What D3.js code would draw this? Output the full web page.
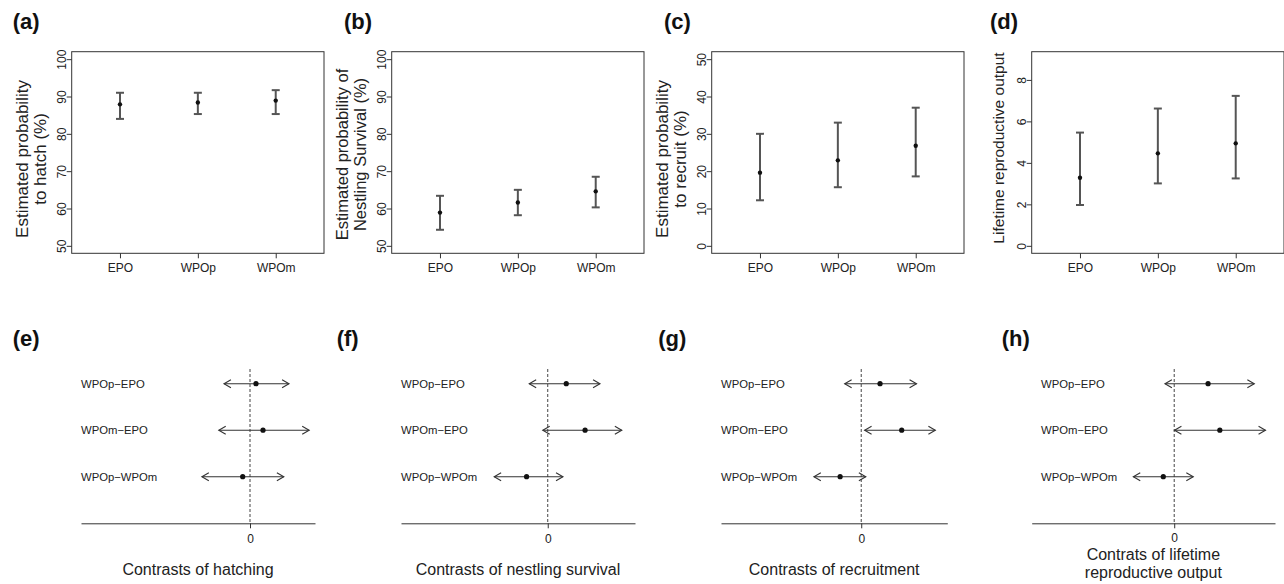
<!DOCTYPE html>
<html>
<head>
<meta charset="utf-8">
<script src="https://cdn.jsdelivr.net/npm/d3@7"></script>
<style>
  html, body { margin: 0; padding: 0; background: #fff; }
  svg { display: block; font-family: "Liberation Sans", Arial, Helvetica, sans-serif; }
</style>
</head>
<body>
<svg id="chart" width="1284" height="584"></svg>
<script>
// ---------- Data ----------
const groups = ["EPO", "WPOp", "WPOm"];

const hatchMean = [87.9, 88.4, 88.9];
const hatchLow  = [84.0, 85.3, 85.3];
const hatchHigh = [91.0, 91.0, 91.7];

const survMean = [58.9, 61.6, 64.6];
const survLow  = [54.3, 58.2, 60.3];
const survHigh = [63.4, 65.0, 68.5];

const recMean = [19.6, 22.9, 26.8];
const recLow  = [12.2, 15.7, 18.6];
const recHigh = [30.0, 33.0, 37.0];

const lroMean = [3.28, 4.46, 4.94];
const lroLow  = [1.97, 3.01, 3.25];
const lroHigh = [5.46, 6.62, 7.23];

const pctTicks = [50, 60, 70, 80, 90, 100];
const recTicks = [0, 10, 20, 30, 40, 50];
const lroTicks = [0, 2, 4, 6, 8];

const contrastNames = ["WPOp\u2212EPO", "WPOm\u2212EPO", "WPOp\u2212WPOm"];

const hatchConEst  = [0.46, 1.0, -0.56];
const hatchConLow  = [-2.0, -2.4, -3.7];
const hatchConHigh = [3.0, 4.55, 2.6];

const survConEst  = [2.8, 5.65, -3.2];
const survConLow  = [-2.8, -0.75, -8.1];
const survConHigh = [7.9, 11.2, 2.3];

const recConEst  = [3.3, 7.1, -3.7];
const recConLow  = [-2.9, 0.6, -8.3];
const recConHigh = [9.7, 13.0, 0.8];

const lroConEst  = [1.21, 1.63, -0.39];
const lroConLow  = [-0.33, 0.01, -1.46];
const lroConHigh = [2.86, 3.26, 0.68];

const contrastTicks = [0];

// ---------- Layout ----------
const svg = d3.select("#chart");
const INK = "#222";

const topPanels = [
  { tag: "(a)", tagX: 12.7, left: 71.7, mean: hatchMean, low: hatchLow, high: hatchHigh,
    yDomain: [48, 102], ticks: pctTicks, title: ["Estimated probability", "to hatch (%)"], titleY: 159, titleSize: 17 },
  { tag: "(b)", tagX: 344, left: 391.7, mean: survMean, low: survLow, high: survHigh,
    yDomain: [48, 102], ticks: pctTicks, title: ["Estimated probability of", "Nestling Survival (%)"], titleY: 154.5, titleSize: 16.5 },
  { tag: "(c)", tagX: 664, left: 711.7, mean: recMean, low: recLow, high: recHigh,
    yDomain: [-2, 52], ticks: recTicks, title: ["Estimated probability", "to recruit (%)"], titleY: 159, titleSize: 17 },
  { tag: "(d)", tagX: 990, left: 1031.7, mean: lroMean, low: lroLow, high: lroHigh,
    yDomain: [-0.36, 9.36], ticks: lroTicks, title: ["Lifetime reproductive output"], titleY: 148, titleSize: 15.5 }
];

const boxTop = 51.7, boxBottom = 253.3, boxW = 252.3;

topPanels.forEach(p => {
  const g = svg.append("g");
  const x = d3.scaleLinear().domain([0.38, 3.62]).range([p.left, p.left + boxW]);
  const y = d3.scaleLinear().domain(p.yDomain).range([boxBottom, boxTop]);

  // panel tag
  g.append("text").attr("x", p.tagX).attr("y", 29).attr("font-size", 22)
    .attr("font-weight", "bold").attr("fill", "#111").text(p.tag);

  // box
  g.append("rect").attr("x", p.left).attr("y", boxTop)
    .attr("width", boxW).attr("height", boxBottom - boxTop)
    .attr("fill", "none").attr("stroke", "#333").attr("stroke-width", 1);

  // y axis
  const ya = g.append("g").attr("transform", `translate(${p.left},0)`)
    .call(d3.axisLeft(y).tickValues(p.ticks).tickSize(5).tickSizeOuter(0).tickFormat(d3.format("d")));
  ya.select(".domain").remove();
  ya.selectAll(".tick line").attr("stroke", "#333");
  ya.selectAll(".tick text")
    .attr("transform", "rotate(-90)")
    .attr("x", 0).attr("y", -6).attr("dy", null)
    .attr("text-anchor", "middle")
    .attr("font-size", 12).attr("fill", INK)
    .style("font-family", "'Liberation Sans', Arial, sans-serif");

  // x axis
  const xa = g.append("g").attr("transform", `translate(0,${boxBottom})`)
    .call(d3.axisBottom(x).tickValues([1, 2, 3]).tickSize(5).tickSizeOuter(0)
      .tickFormat(d => groups[d - 1]));
  xa.select(".domain").remove();
  xa.selectAll(".tick line").attr("stroke", "#333");
  xa.selectAll(".tick text").attr("y", 0).attr("dy", null)
    .attr("transform", "translate(0,19)")
    .attr("font-size", 12).attr("fill", INK)
    .style("font-family", "'Liberation Sans', Arial, sans-serif");

  // y title
  const baselines = p.title.length === 2 ? [p.left - 44.2, p.left - 26.2] : [p.left - 28];
  p.title.forEach((t, i) => {
    g.append("text")
      .attr("transform", `translate(${baselines[i]},${p.titleY}) rotate(-90)`)
      .attr("text-anchor", "middle").attr("font-size", p.titleSize).attr("fill", INK).text(t);
  });

  // error bars
  const data = groups.map((gname, i) => ({ i: i + 1, m: p.mean[i], lo: p.low[i], hi: p.high[i] }));
  const eb = g.append("g").attr("stroke", "#555").attr("stroke-width", 2).attr("fill", "none");
  eb.selectAll(".v").data(data).join("line")
    .attr("x1", d => x(d.i)).attr("x2", d => x(d.i))
    .attr("y1", d => y(d.lo)).attr("y2", d => y(d.hi));
  eb.selectAll(".c1").data(data).join("line")
    .attr("x1", d => x(d.i) - 4).attr("x2", d => x(d.i) + 4)
    .attr("y1", d => y(d.hi)).attr("y2", d => y(d.hi));
  eb.selectAll(".c2").data(data).join("line")
    .attr("x1", d => x(d.i) - 4).attr("x2", d => x(d.i) + 4)
    .attr("y1", d => y(d.lo)).attr("y2", d => y(d.lo));
  g.selectAll(".pt").data(data).join("circle")
    .attr("cx", d => x(d.i)).attr("cy", d => y(d.m)).attr("r", 2.2).attr("fill", "#111");
});

// ---------- Contrast panels ----------
const botPanels = [
  { tag: "(e)", tagX: 12.7, axis: [81, 315], domain: [-13, 5], labelX: 81,
    est: hatchConEst, low: hatchConLow, high: hatchConHigh, title: ["Contrasts of hatching"] },
  { tag: "(f)", tagX: 336.7, axis: [401, 635], domain: [-22.2, 13.2], labelX: 401,
    est: survConEst, low: survConLow, high: survConHigh, title: ["Contrasts of nestling survival"] },
  { tag: "(g)", tagX: 658.3, axis: [721, 947.3], domain: [-24.6, 15.1], labelX: 721,
    est: recConEst, low: recConLow, high: recConHigh, title: ["Contrasts of recruitment"] },
  { tag: "(h)", tagX: 1001.7, axis: [1031.7, 1275], domain: [-5.09, 3.6], labelX: 1041,
    est: lroConEst, low: lroConLow, high: lroConHigh, title: ["Contrats of lifetime", "reproductive output"] }
];

const axisY = 523.3;
const rowY = d3.scalePoint().domain(contrastNames).range([383.7, 476.7]);

function arrowHead(x, y, dir) {
  // open arrowhead, 30 degrees, length 8, pointing in dir (+1 right, -1 left)
  const len = 8, ang = Math.PI / 6;
  const dx = len * Math.cos(ang), dy = len * Math.sin(ang);
  const p = d3.path();
  p.moveTo(x - dir * dx, y - dy);
  p.lineTo(x, y);
  p.lineTo(x - dir * dx, y + dy);
  return p.toString();
}

botPanels.forEach(p => {
  const g = svg.append("g");
  const x = d3.scaleLinear().domain(p.domain).range(p.axis);

  g.append("text").attr("x", p.tagX).attr("y", 346).attr("font-size", 22)
    .attr("font-weight", "bold").attr("fill", "#111").text(p.tag);

  // axis
  const xa = g.append("g").attr("transform", `translate(0,${axisY})`)
    .call(d3.axisBottom(x).tickValues(contrastTicks).tickSize(5).tickSizeOuter(0).tickFormat(d3.format("d")));
  xa.select(".domain").attr("stroke", "#333");
  xa.selectAll(".tick line").attr("stroke", "#333");
  xa.selectAll(".tick text").attr("y", 0).attr("dy", null)
    .attr("transform", `translate(0,${p.title.length === 2 ? 19 : 20})`)
    .attr("font-size", 12).attr("fill", INK)
    .style("font-family", "'Liberation Sans', Arial, sans-serif");

  // dashed zero line
  g.append("line").attr("x1", x(0)).attr("x2", x(0)).attr("y1", 369).attr("y2", axisY)
    .attr("stroke", "#444").attr("stroke-width", 1).attr("stroke-dasharray", "3,2");

  const data = contrastNames.map((n, i) => ({ n, e: p.est[i], lo: p.low[i], hi: p.high[i] }));

  // row labels
  g.selectAll(".lab").data(data).join("text")
    .attr("x", p.labelX).attr("y", d => rowY(d.n) + 4)
    .attr("font-size", 11.3).attr("fill", INK).text(d => d.n);

  // intervals
  const ln = g.append("g").attr("stroke", "#333").attr("stroke-width", 1.1).attr("fill", "none");
  ln.selectAll(".seg").data(data).join("line")
    .attr("x1", d => x(d.lo)).attr("x2", d => x(d.hi))
    .attr("y1", d => rowY(d.n)).attr("y2", d => rowY(d.n));
  ln.selectAll(".ahL").data(data).join("path")
    .attr("d", d => arrowHead(x(d.lo), rowY(d.n), -1));
  ln.selectAll(".ahR").data(data).join("path")
    .attr("d", d => arrowHead(x(d.hi), rowY(d.n), 1));

  g.selectAll(".pt").data(data).join("circle")
    .attr("cx", d => x(d.e)).attr("cy", d => rowY(d.n)).attr("r", 2.6).attr("fill", "#111");

  // title
  const cx = (p.axis[0] + p.axis[1]) / 2;
  const ys = p.title.length === 2 ? [560, 578] : [575];
  p.title.forEach((t, i) => {
    g.append("text").attr("x", cx).attr("y", ys[i]).attr("text-anchor", "middle")
      .attr("font-size", 16).attr("fill", INK).text(t);
  });
});
</script>
</body>
</html>
